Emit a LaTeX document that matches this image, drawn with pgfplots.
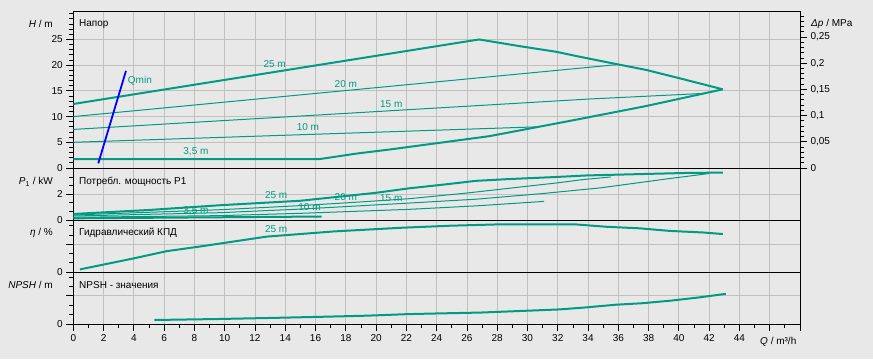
\documentclass[border=0pt]{standalone}
\usepackage{pgfplots}
\pgfplotsset{compat=1.18}
\usepackage{fontspec}
\setmainfont{Liberation Sans}
\definecolor{bg}{RGB}{232,232,232}
\definecolor{tealc}{RGB}{0,155,130}
\definecolor{gridc}{RGB}{192,192,192}
\pgfplotsset{
 base/.style={
  scale only axis, width=726.7pt, xmin=0, xmax=48,
  anchor=south west,
  axis line style={black, line width=0.9pt},
  tick align=outside,
  xtick={0,2,...,48},
  grid=major,
  major grid style={gridc, line width=0.8pt},
  ytick pos=left,
  xtick pos=bottom,
  tick style={black, line width=0.8pt},
  major tick length=7pt, minor tick length=4pt,
  /pgf/number format/assume math mode=true,
  tick label style={font=\fontsize{10}{12}\selectfont},
 },
 upper/.style={xticklabels={}, xtick style={draw=none}},
}
\tikzset{lab/.style={font=\fontsize{10}{12}\selectfont, text=tealc, inner sep=0pt}}
\begin{document}
\begin{tikzpicture}
\path[use as bounding box, fill=bg] (0,0) rectangle (873pt,359pt);
% ---------- H panel
\begin{axis}[base, upper, at={(73.3pt,191pt)}, height=156.3pt, ymin=0, ymax=30.4,
  ytick={0,5,...,25}, minor ytick={1,...,30}]
\addplot[tealc, line width=2pt] coordinates {(0,12.45)(26.8,25)(29.7,23.6)(31.9,22.6)(33.4,21.67)(35.6,20.37)(37.85,19.07)(40.05,17.45)(42.9,15.3)};
\addplot[tealc, line width=2pt] coordinates {(0,1.75)(16.3,1.75)(18.7,2.8)(20.9,3.6)(27.5,6.2)(33.4,9.5)(37.85,12.06)(42.9,15.3)};
\addplot[tealc, line width=1pt] coordinates {(0,10)(35.9,20.1)};
\addplot[tealc, line width=1pt] coordinates {(0,7.5)(34.1,13.42)(41.6,14.5)};
\addplot[tealc, line width=1pt] coordinates {(0,5)(30.6,8.0)};
\addplot[blue, line width=1.8pt] coordinates {(1.65,0.9)(3.48,18.9)};
\node[lab] at (axis cs:13.3,20.2) {25 m};
\node[lab] at (axis cs:18.0,16.3) {20 m};
\node[lab] at (axis cs:21.0,12.4) {15 m};
\node[lab] at (axis cs:15.5,7.9) {10 m};
\node[lab] at (axis cs:8.1,3.2) {3,5 m};
\node[lab] at (axis cs:4.4,16.9) {Qmin};
\end{axis}
% ---------- Delta p axis
\begin{axis}[scale only axis, width=726.7pt, height=156.3pt, at={(73.3pt,191pt)}, anchor=south west,
  xmin=0, xmax=48, ymin=0, ymax=0.2982,
  axis x line=none, axis y line*=right,
  axis line style={black, line width=0.9pt},
  tick align=outside, tick style={black, line width=0.8pt},
  major tick length=7pt, minor tick length=4pt,
  ytick={0,0.05,0.1,0.15,0.2,0.25}, minor ytick={0.01,0.02,...,0.29},
  yticklabel style={/pgf/number format/.cd, use comma, fixed, precision=2},
  /pgf/number format/assume math mode=true,
  tick label style={font=\fontsize{10}{12}\selectfont}]
\addplot[draw=none] coordinates {(0,0)};
\end{axis}
% ---------- P1 panel
\begin{axis}[base, upper, at={(73.3pt,139pt)}, height=52pt, ymin=0, ymax=4.05,
  ytick={0,2}, minor ytick={0.667,1.333,2.667,3.333}]
\addplot[tealc, line width=2pt] coordinates {(0,0.47)(5,0.78)(9.7,1.15)(15,1.5)(18,1.87)(20,2.12)(22.2,2.47)(24.4,2.75)(26.6,3.05)(28.8,3.19)(31.9,3.35)(33.9,3.47)(37.6,3.58)(40.7,3.67)(42.9,3.69)};
\addplot[tealc, line width=1pt] coordinates {(0,0.39)(9.7,0.8)(15,1.12)(18.5,1.37)(22.2,1.66)(26,2.1)(29.9,2.62)(31.9,2.88)(33.6,3.14)(35.5,3.35)};
\addplot[tealc, line width=1pt] coordinates {(0,0.31)(9.7,0.57)(15,0.85)(22.2,1.32)(26.6,1.62)(30.9,2.05)(34.8,2.5)(37,2.85)(39.2,3.2)(41.4,3.53)(42,3.62)};
\addplot[tealc, line width=1pt] coordinates {(0,0.21)(9.7,0.34)(15,0.52)(22.2,0.83)(26.6,1.1)(31.1,1.45)};
\addplot[tealc, line width=2pt] coordinates {(0,0.13)(16.4,0.27)};
\node[lab] at (axis cs:13.4,1.95) {25 m};
\node[lab] at (axis cs:18.0,1.81) {20 m};
\node[lab] at (axis cs:21.0,1.69) {15 m};
\node[lab] at (axis cs:15.6,1.03) {10 m};
\node[lab] at (axis cs:8.1,0.70) {3,5 m};
\end{axis}
% ---------- eta panel
\begin{axis}[base, upper, at={(73.3pt,87pt)}, height=52pt, ymin=0, ymax=1,
  ytick={0,0.533}, yticklabels={0,{}}, minor ytick={0.178,0.356,0.711,0.889}]
\addplot[tealc, line width=2pt] coordinates {(0.44,0.05)(3.96,0.26)(6.16,0.40)(8.36,0.49)(12.76,0.68)(17.2,0.78)(21.6,0.85)(24.9,0.89)(28,0.915)(33.1,0.917)(35.2,0.87)(37.4,0.84)(39.4,0.79)(41.6,0.76)(42.9,0.73)};
\node[lab] at (axis cs:13.4,0.83) {25 m};
\end{axis}
% ---------- NPSH panel
\begin{axis}[base, at={(73.3pt,35pt)}, height=52pt, ymin=0, ymax=1,
  ytick={0,0.545}, yticklabels={0,{}}, minor ytick={0.18,0.36,0.72,0.9},
  minor xtick={1,3,...,47},
  xticklabels={0,2,4,6,8,10,12,14,16,18,20,22,24,26,28,30,32,34,36,38,40,42,44,{},{}}]
\addplot[tealc, line width=2pt] coordinates {(5.36,0.077)(9.6,0.096)(13.6,0.12)(16.6,0.14)(19.4,0.16)(22.1,0.19)(23.6,0.2)(26.9,0.22)(29.5,0.25)(32.1,0.28)(33.9,0.32)(35.8,0.37)(37.6,0.40)(39.5,0.45)(41.3,0.51)(43.1,0.58)};
\end{axis}
% ---------- texts
\begin{scope}[every node/.style={font=\fontsize{10}{12}\selectfont, inner sep=0pt}]
\node[anchor=east] at (53pt,335pt) {\textit{H} / m};
\node[anchor=east] at (53pt,177.3pt) {\textit{P}\textsubscript{1} / kW};
\node[anchor=east] at (53pt,125.7pt) {\textit{η} / \%};
\node[anchor=east] at (53pt,74pt) {\textit{NPSH} / m};
\node[anchor=west] at (79pt,335pt) {Напор};
\node[anchor=west] at (79pt,177.3pt) {Потребл. мощность P1};
\node[anchor=west] at (79pt,125.7pt) {Гидравлический КПД};
\node[anchor=west] at (79pt,74pt) {NPSH - значения};
\node[anchor=west] at (811pt,335pt) {\textit{Δp} / MPa};
\node[anchor=west] at (760pt,17pt) {\textit{Q} / m³/h};
\end{scope}
\end{tikzpicture}
\end{document}
